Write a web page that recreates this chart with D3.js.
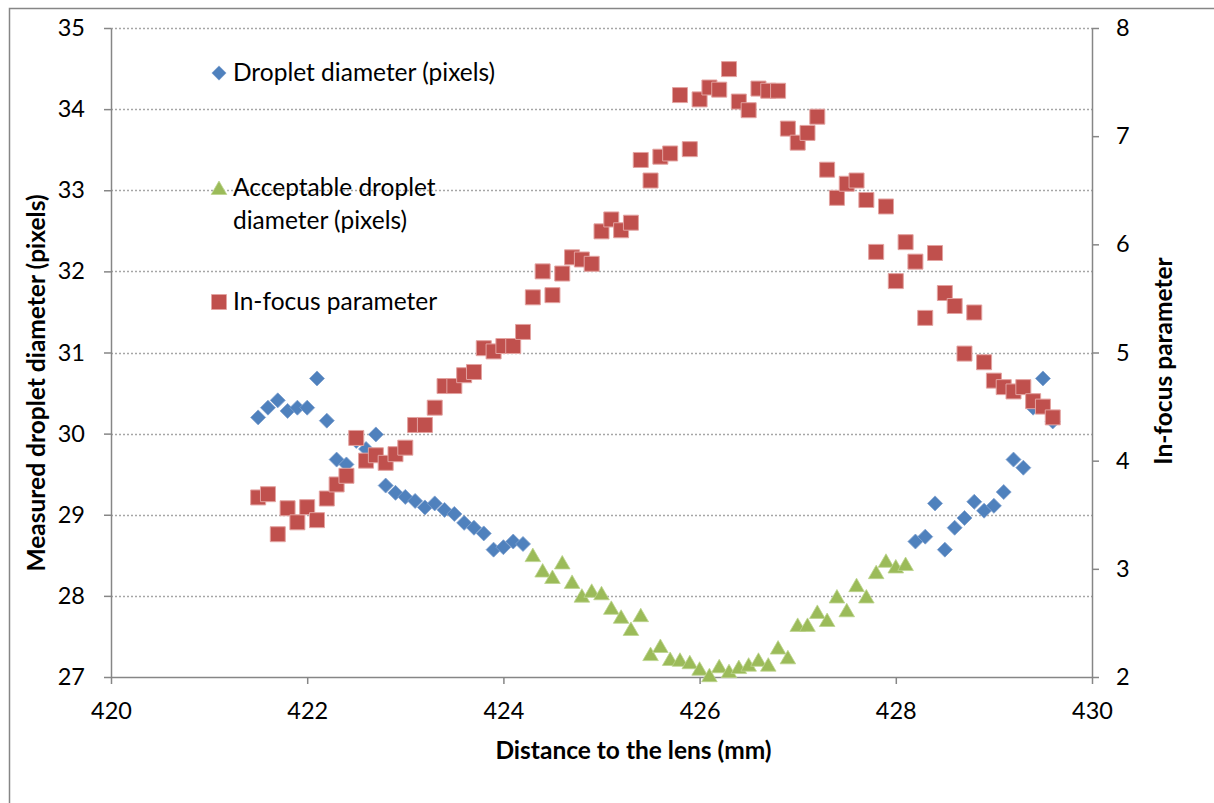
<!DOCTYPE html>
<html><head><meta charset="utf-8">
<script src="https://cdn.jsdelivr.net/npm/d3@7"></script>
<style>body{margin:0;background:#fff}svg{display:block}text{font-family:Lato,"Open Sans",sans-serif;fill:#000}</style>
</head><body>
<script>
// Data
const dropX = [421.5,421.6,421.7,421.8,421.9,422.0,422.1,422.2,422.3,422.4,422.5,422.6,422.7,422.8,422.9,423.0,423.1,423.2,423.3,423.4,423.5,423.6,423.7,423.8,423.9,424.0,424.1,424.2,
  428.2,428.3,428.4,428.5,428.6,428.7,428.8,428.9,429.0,429.1,429.2,429.3,429.4,429.5,429.6];
const dropY = [30.20,30.32,30.41,30.28,30.32,30.32,30.68,30.16,29.68,29.62,29.91,29.81,29.99,29.36,29.27,29.22,29.17,29.09,29.14,29.06,29.01,28.90,28.84,28.77,28.57,28.60,28.67,28.64,
  28.67,28.73,29.14,28.57,28.84,28.96,29.16,29.05,29.11,29.28,29.68,29.58,30.32,30.68,30.15];
const accX = [424.3,424.4,424.5,424.6,424.7,424.8,424.9,425.0,425.1,425.2,425.3,425.4,425.5,425.6,425.7,425.8,425.9,426.0,426.1,426.2,426.3,426.4,426.5,426.6,426.7,426.8,426.9,427.0,427.1,427.2,427.3,427.4,427.5,427.6,427.7,427.8,427.9,428.0,428.1];
const accY = [28.49,28.30,28.22,28.40,28.16,27.99,28.05,28.02,27.84,27.73,27.58,27.75,27.27,27.37,27.21,27.20,27.17,27.09,27.01,27.12,27.06,27.11,27.14,27.20,27.14,27.35,27.23,27.63,27.63,27.79,27.69,27.98,27.81,28.12,27.98,28.28,28.42,28.35,28.38];
const focX = [421.5,421.6,421.7,421.8,421.9,422.0,422.1,422.2,422.3,422.4,422.5,422.6,422.7,422.8,422.9,423.0,423.1,423.2,423.3,423.4,423.5,423.6,423.7,423.8,423.9,424.0,424.1,424.2,424.3,424.4,424.5,424.6,424.7,424.8,424.9,425.0,425.1,425.2,425.3,425.4,425.5,425.6,425.7,425.8,425.9,426.0,426.1,426.2,426.3,426.4,426.5,426.6,426.7,426.8,426.9,427.0,427.1,427.2,427.3,427.4,427.5,427.6,427.7,427.8,427.9,428.0,428.1,428.2,428.3,428.4,428.5,428.6,428.7,428.8,428.9,429.0,429.1,429.2,429.3,429.4,429.5,429.6];
const focY = [3.66,3.69,3.32,3.56,3.43,3.57,3.45,3.65,3.78,3.86,4.21,4.00,4.05,3.98,4.06,4.12,4.33,4.33,4.49,4.69,4.69,4.79,4.82,5.04,5.01,5.06,5.06,5.19,5.51,5.75,5.53,5.73,5.88,5.86,5.82,6.12,6.23,6.13,6.20,6.78,6.59,6.81,6.84,7.38,6.88,7.34,7.45,7.43,7.62,7.32,7.24,7.44,7.42,7.42,7.07,6.94,7.03,7.18,6.69,6.43,6.56,6.59,6.41,5.93,6.35,5.66,6.02,5.84,5.32,5.92,5.55,5.43,4.99,5.37,4.91,4.74,4.68,4.64,4.68,4.55,4.50,4.40];
const xTicks = [420,422,424,426,428,430];
const yLeftTicks = [27,28,29,30,31,32,33,34,35];
const yRightTicks = [2,3,4,5,6,7,8];
const legendLabels = [["Droplet diameter (pixels)"],["Acceptable droplet","diameter (pixels)"],["In-focus parameter"]];

const W=1214,H=803;
const L=111,R=1092,T=28,B=677;
const svg=d3.select("body").append("svg").attr("width",W).attr("height",H);
const x=d3.scaleLinear().domain([420,430]).range([L,R]);
const yl=d3.scaleLinear().domain([27,35]).range([B,T]);
const yr=d3.scaleLinear().domain([2,8]).range([B,T]);
const axisCol="#868686";

// frame
svg.append("path").attr("d",`M9.5,${H+5} V8.5 H${W+5}`).attr("fill","none").attr("stroke",axisCol).attr("stroke-width",1.5);

// gridlines
svg.append("g").selectAll("line").data(yLeftTicks.filter(d=>d>27)).join("line")
  .attr("x1",L).attr("x2",R).attr("y1",d=>Math.round(yl(d))+0.5).attr("y2",d=>Math.round(yl(d))+0.5)
  .attr("stroke","#a6a6a6").attr("stroke-width",1.3).attr("stroke-dasharray","2,2");

function styleAxis(g){g.selectAll("path").attr("stroke",axisCol).attr("stroke-width",1.5);
  g.selectAll("line").attr("stroke",axisCol).attr("stroke-width",1.5);
  g.selectAll("text").style("font-family","Lato,sans-serif").style("font-size","23.5px").attr("fill","#000");}

svg.append("g").attr("transform",`translate(${L},0)`)
  .call(d3.axisLeft(yl).tickValues(yLeftTicks).tickSize(7).tickSizeOuter(0).tickPadding(19).tickFormat(d3.format("d")))
  .call(styleAxis);
svg.append("g").attr("transform",`translate(${R},0)`)
  .call(d3.axisRight(yr).tickValues(yRightTicks).tickSize(7).tickSizeOuter(0).tickPadding(17).tickFormat(d3.format("d")))
  .call(styleAxis);
svg.append("g").attr("transform",`translate(0,${B})`)
  .call(d3.axisBottom(x).tickValues(xTicks).tickSize(7).tickSizeOuter(0).tickPadding(18).tickFormat(d3.format("d")))
  .call(styleAxis);

// markers
const blue="#4F81BD",green="#9BBB59",red="#C0504D";
const diamond="M0,-7.5L7.5,0L0,7.5L-7.5,0Z";
const tri="M0,-8L7.8,5.5L-7.8,5.5Z";
const sq="M-7.5,-7.5H7.5V7.5H-7.5Z";
const blueData=dropX.map((d,i)=>[d,dropY[i]]);
const greenData=accX.map((d,i)=>[d,accY[i]]);
const redData=focX.map((d,i)=>[d,focY[i]]);
svg.append("g").selectAll("path").data(blueData).join("path").attr("d",diamond)
  .attr("transform",d=>`translate(${x(d[0])},${yl(d[1])})`).attr("fill",blue).attr("stroke","#7d9fce").attr("stroke-width",0.8);
svg.append("g").selectAll("path").data(greenData).join("path").attr("d",tri)
  .attr("transform",d=>`translate(${x(d[0])},${yl(d[1])})`).attr("fill",green).attr("stroke","#bcd48e").attr("stroke-width",0.8);
svg.append("g").selectAll("path").data(redData).join("path").attr("d",sq)
  .attr("transform",d=>`translate(${x(d[0])},${yr(d[1])})`).attr("fill",red).attr("stroke","#e3a3a1").attr("stroke-width",1);

// axis titles
svg.append("text").attr("x",(L+R)/2+32).attr("y",759).attr("text-anchor","middle")
  .style("font-size","24.5px").style("font-weight","bold").text("Distance to the lens (mm)");
svg.append("text").attr("transform","translate(45,383) rotate(-90)").attr("text-anchor","middle")
  .style("font-size","24.5px").style("font-weight","bold").text("Measured droplet diameter (pixels)");
svg.append("text").attr("transform","translate(1172,361) rotate(-90)").attr("text-anchor","middle")
  .style("font-size","24.5px").style("font-weight","bold").text("In-focus parameter");

// legend
const legY=[73,188,302];
const legShapes=[[diamond,blue,"#7d9fce"],[tri,green,"#bcd48e"],[sq,red,"#e3a3a1"]];
legendLabels.forEach((lines,i)=>{
  const g=svg.append("g");
  const s=legShapes[i];
  g.append("path").attr("d",s[0]).attr("transform",`translate(219,${legY[i]+(i===1?1:0)})${i===0?" scale(0.95)":""}`).attr("fill",s[1]).attr("stroke",s[2]).attr("stroke-width",0.8);
  lines.forEach((t,j)=>{
    g.append("text").attr("x",233).attr("y",legY[i]+8+j*33).style("font-size","24.5px").text(t);
  });
});
</script>
</body></html>
